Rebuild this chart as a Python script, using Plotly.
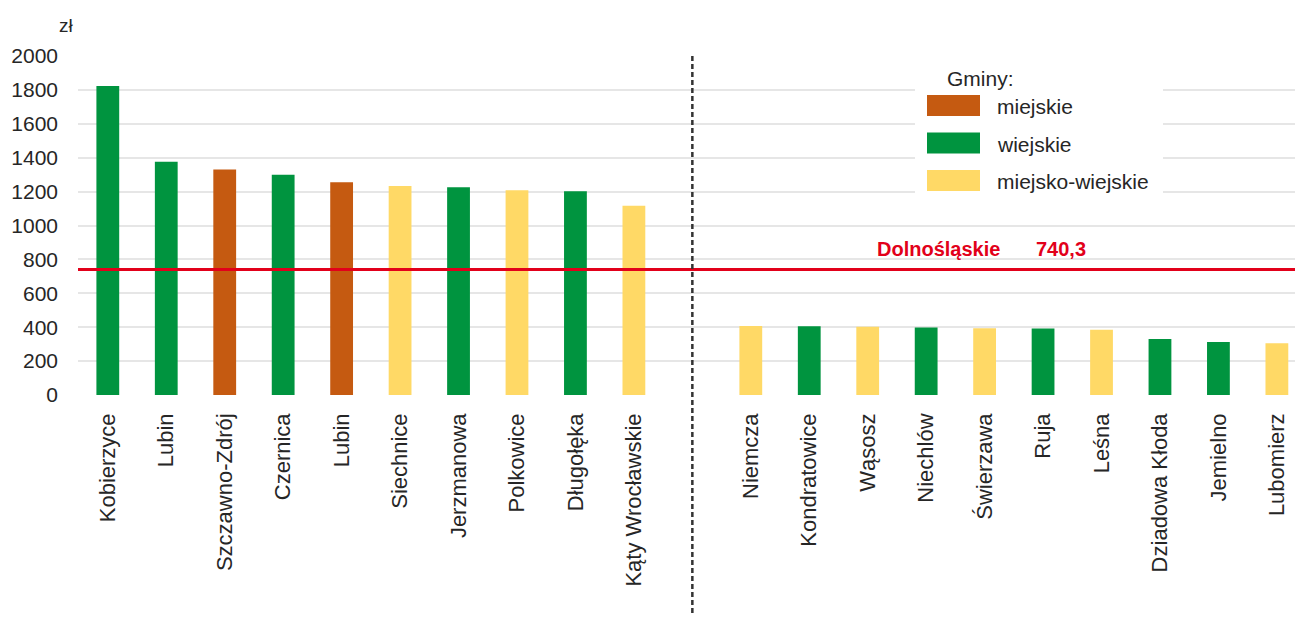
import plotly.graph_objects as go

# ---- data ----
left_names = ["Kobierzyce", "Lubin", "Szczawno-Zdrój", "Czernica", "Lubin",
              "Siechnice", "Jerzmanowa", "Polkowice", "Długołęka", "Kąty Wrocławskie"]
left_values = [1823, 1376, 1331, 1300, 1255, 1233, 1225, 1208, 1202, 1117]
left_types = ["wiejskie", "wiejskie", "miejskie", "wiejskie", "miejskie",
              "miejsko-wiejskie", "wiejskie", "miejsko-wiejskie", "wiejskie", "miejsko-wiejskie"]

right_names = ["Niemcza", "Kondratowice", "Wąsosz", "Niechlów", "Świerzawa",
               "Ruja", "Leśna", "Dziadowa Kłoda", "Jemielno", "Lubomierz"]
right_values = [407, 406, 403, 398, 394, 393, 385, 330, 312, 306]
right_types = ["miejsko-wiejskie", "wiejskie", "miejsko-wiejskie", "wiejskie", "miejsko-wiejskie",
               "wiejskie", "miejsko-wiejskie", "wiejskie", "wiejskie", "miejsko-wiejskie"]

region_name = "Dolnośląskie"
region_value = 740.3
region_label = "740,3"

type_order = ["miejskie", "wiejskie", "miejsko-wiejskie"]
type_colors = {"miejskie": "#C55A11", "wiejskie": "#00943F", "miejsko-wiejskie": "#FFD966"}

y_ticks = [0, 200, 400, 600, 800, 1000, 1200, 1400, 1600, 1800, 2000]

# ---- build ----
names = left_names + [""] + right_names
values = left_values + [None] + right_values
types = left_types + [None] + right_types
xpos = list(range(len(names)))
sep_x = len(left_names)

FONT = "Liberation Sans, Arial, sans-serif"
TXT = "#262626"

fig = go.Figure()
for t in type_order:
    xs = [x for x, tt in zip(xpos, types) if tt == t]
    ys = [v for v, tt in zip(values, types) if tt == t]
    fig.add_trace(go.Bar(x=xs, y=ys, name=t, width=0.39,
                         marker=dict(color=type_colors[t], line=dict(width=0)),
                         showlegend=False))

# average line
fig.add_shape(type="line", xref="paper", yref="y", x0=0, x1=1, y0=region_value, y1=region_value,
              line=dict(color="#E2001A", width=3), layer="above")
# separator
fig.add_shape(type="line", xref="x", yref="paper", x0=sep_x, x1=sep_x, y0=1.0, y1=-0.65,
              line=dict(color="#333333", width=2.5, dash="5px,3px"), layer="above")

fig.add_annotation(text="<b>" + region_name + "</b>", xref="x", yref="y", x=15.3, y=region_value,
                   xanchor="right", yanchor="bottom", yshift=8, showarrow=False,
                   font=dict(family=FONT, size=20, color="#E2001A"))
fig.add_annotation(text="<b>" + region_label + "</b>", xref="x", yref="y", x=15.85, y=region_value,
                   xanchor="left", yanchor="bottom", yshift=8, showarrow=False,
                   font=dict(family=FONT, size=20, color="#E2001A"))

# unit label
fig.add_annotation(text="zł", xref="paper", yref="paper", x=-0.002, y=1.09,
                   xanchor="right", yanchor="middle", showarrow=False,
                   font=dict(family=FONT, size=19, color=TXT))

# manual legend
L = 78
W = 1217
H = 339
T = 56
def px(xp):
    return (xp - L) / W
def py(yp):
    return (T + H - yp) / H

fig.add_shape(type="rect", xref="paper", yref="paper", x0=px(915), x1=px(1163), y0=py(200), y1=py(62),
              fillcolor="white", line=dict(width=0), layer="above")
fig.add_annotation(text="Gminy:", xref="paper", yref="paper", x=px(945), y=py(78),
                   xanchor="left", yanchor="middle", showarrow=False,
                   font=dict(family=FONT, size=21, color=TXT))
for i, t in enumerate(type_order):
    cy = 105.5 + i * 37.5
    fig.add_shape(type="rect", xref="paper", yref="paper", x0=px(927), x1=px(980),
                  y0=py(cy + 10.5), y1=py(cy - 10.5), fillcolor=type_colors[t],
                  line=dict(width=0), layer="above")
    fig.add_annotation(text=t, xref="paper", yref="paper", x=px(995), y=py(cy + 1),
                       xanchor="left", yanchor="middle", showarrow=False,
                       font=dict(family=FONT, size=21, color=TXT))

fig.update_layout(
    width=1295, height=618,
    margin=dict(l=78, r=0, t=56, b=223),
    paper_bgcolor="white", plot_bgcolor="white",
    font=dict(family=FONT, size=21, color=TXT),
    bargap=0.6,
    xaxis=dict(range=[-0.51, 20.31], tickmode="array", tickvals=xpos, ticktext=names,
               tickangle=-90, showgrid=False, zeroline=False, showline=False, ticks="",
               ticklabelstandoff=13, tickfont=dict(family=FONT, size=22, color=TXT)),
    yaxis=dict(range=[0, 2000], tickmode="array", tickvals=y_ticks,
               showgrid=True, gridcolor="#E6E6E6", gridwidth=1.5, zeroline=False,
               showline=False, ticks="", ticklabelstandoff=19,
               tickfont=dict(family=FONT, size=21, color=TXT)),
)

fig.write_html("out.html", config={"displayModeBar": False},
               post_script="document.body.style.margin='0';document.body.style.overflow='hidden';")
